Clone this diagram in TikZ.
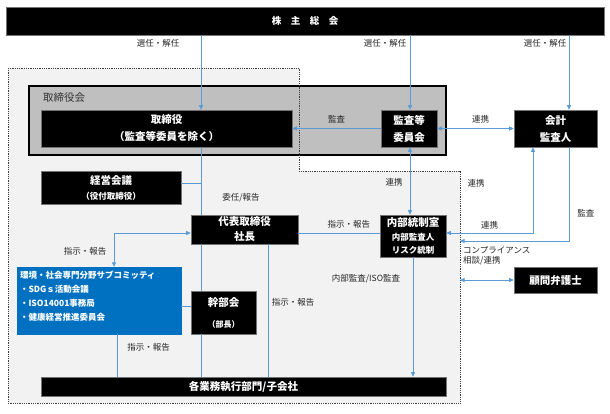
\documentclass[tikz,border=0pt]{standalone}
\usepackage{fontspec}
\setmainfont{Noto Sans CJK JP}
\usepackage{tikz}
\usetikzlibrary{arrows.meta,positioning,calc}
\definecolor{orglinecol}{HTML}{5B9BD5}
\definecolor{orgsubcol}{HTML}{0070C0}
\definecolor{orgzonecol}{HTML}{F2F2F2}
\definecolor{orgboardcol}{HTML}{BFBFBF}
\tikzset{
  orgbox/.style={
    rectangle, draw=black!55, fill=black, text=white, line width=0.6pt,
    inner sep=0pt, align=center, font=\bfseries\fontsize{10.5}{17}\selectfont
  },
  orgboard/.style={rectangle, draw=black, fill=orgboardcol, line width=1.6pt, inner sep=0pt},
  orgsub/.style={rectangle, draw=orgsubcol, fill=orgsubcol, inner sep=0pt},
  orgsubtext/.style={text=white, align=left, inner xsep=3pt, inner ysep=4pt,
    font=\bfseries\fontsize{8.5}{14}\selectfont},
  orgzone/.style={densely dotted, draw=black!75, line width=0.8pt},
  orgline/.style={draw=orglinecol, line width=0.6pt},
  orgedge/.style={orgline, -{Triangle[length=4.5pt,width=4pt]}},
  orgboth/.style={orgline, {Triangle[length=4.5pt,width=4pt]}-{Triangle[length=4.5pt,width=4pt]}},
  orglabel/.style={font=\fontsize{8.5}{10}\selectfont, text=black!85, inner sep=1pt},
  orgtitle/.style={font=\fontsize{10.5}{12}\selectfont, text=black!80, inner sep=0pt}
}

\begin{document}
\begin{tikzpicture}[x=1pt,y=-1pt]
  \useasboundingbox (0,0) rectangle (610,413);
  % columns and rows the connectors run along
  \coordinate (colA) at (201,0);
  \coordinate (colB) at (410,0);
  \coordinate (colC) at (569,0);
  \coordinate (colD) at (533,0);
  \coordinate (colE) at (114,0);
  \coordinate (colF) at (117,0);
  \coordinate (colG) at (268,0);
  \coordinate (zoneedge) at (460,0);
  \coordinate (rowK) at (0,183);
  \coordinate (rowA) at (0,233);
  \coordinate (rowD) at (0,241);
  \coordinate (rowF) at (0,306);
  % executive zone
  \fill[orgzonecol] (8,68) -- (299,68) -- (299,171) -- (460,171) -- (460,403) -- (8,403) -- cycle;
  \node[orgbox,font=\bfseries\fontsize{9.5}{12}\selectfont,minimum width=598pt,minimum height=28pt] (soukai) at (305,21) {株　主　総　会};
  \node[orgboard,minimum width=417pt,minimum height=69pt] (board) at (237.5,120.5) {};
  \node[orgtitle,anchor=west] (boardtitle) at (43,98) {取締役会};
  \draw[orgzone] (8,68) -- (299,68) -- (299,171) -- (460,171) -- (460,403) -- (8,403) -- cycle;
  \node[orgbox,minimum width=251pt,minimum height=37pt] (torishimariyaku) at (166.5,128.5) {取締役\\（監査等委員を除く）};
  \node[orgbox,minimum width=56pt,minimum height=37pt] (kansa) at (409,128.5) {監査等\\委員会};
  \node[orgbox,minimum width=83pt,minimum height=37pt] (kaikei) at (555.5,128.5) {会計\\監査人};
  \node[orgbox,font=\bfseries\fontsize{10.5}{15}\selectfont,minimum width=140pt,minimum height=33pt] (keiei) at (111,187.5) {経営会議\\{\fontsize{8.5}{15}\selectfont（役付取締役）}};
  \node[orgbox,font=\bfseries\fontsize{10.5}{15}\selectfont,minimum width=107pt,minimum height=29pt] (daihyo) at (244.5,229.5) {代表取締役\\社長};
  \node[orgbox,font=\bfseries\fontsize{8.5}{13.5}\selectfont,minimum width=66pt,minimum height=42pt] (naibu) at (413,236) {{\fontsize{10.5}{13.5}\selectfont 内部統制室}\\内部監査人\\リスク統制};
  \node[orgsub,minimum width=164pt,minimum height=67pt] (sub) at (99,300.5) {};
  \node[orgsubtext,anchor=north west] (subtext) at (sub.north west) {環境・社会専門分野サブコミッティ\\・SDGｓ活動会議\\・ISO14001事務局\\・健康経営推進委員会};
  \node[orgbox,font=\bfseries\fontsize{10.5}{21}\selectfont,minimum width=65pt,minimum height=43pt] (kanbu) at (223.5,312.5) {幹部会\\{\fontsize{8}{21}\selectfont（部長）}};
  \node[orgbox,minimum width=83pt,minimum height=26pt] (bengoshi) at (555.5,280) {顧問弁護士};
  \node[orgbox,minimum width=405pt,minimum height=19pt] (gyomu) at (243.5,386.5) {各業務執行部門/子会社};
  % from the shareholders' meeting
  \draw[orgedge] (soukai.south -| colA) -- (torishimariyaku.north -| colA);
  \draw[orgedge] (soukai.south -| colB) -- (kansa.north -| colB);
  \draw[orgedge] (soukai.south -| colC) -- (kaikei.north -| colC);
  \node[orglabel] (sennin1) at (158,43) {選任・解任};
  \node[orglabel] (sennin2) at (385,43) {選任・解任};
  \node[orglabel] (sennin3) at (545,43) {選任・解任};
  % audit committee and auditor
  \draw[orgedge] (kansa.west) -- node[orglabel,above=4pt] {監査} (torishimariyaku.east |- kansa.west);
  \draw[orgboth] (kansa.east) -- node[orglabel,above=4pt,xshift=5pt] {連携} (kaikei.west);
  \draw[orgboth] (kansa.south -| colB) -- node[orglabel,left=6pt,pos=.52] {連携} (naibu.north -| colB);
  \draw[orgboth] (kaikei.south -| colD) |- node[orglabel,pos=.75,above=3pt] {連携} (naibu.east |- rowA);
  \node[orglabel] (renkei4) at (476,183) {連携};
  \draw[orgedge] (kaikei.south -| colC) |- node[orglabel,pos=.35,right=7pt] {監査} (zoneedge |- rowD);
  \node[orglabel,anchor=west] (compliance) at (462,250) {コンプライアンス};
  \node[orglabel,anchor=west] (soudan) at (462,261) {相談/連携};
  \draw[orgboth] (zoneedge |- bengoshi.west) -- (bengoshi.west);
  % executive line
  \draw[orgline] (torishimariyaku.south -| colA) -- (daihyo.north -| colA);
  \draw[orgline] (keiei.east |- rowK) -- (colA |- rowK);
  \node[orglabel] (inin) at (241,198) {委任/報告};
  \draw[orgline] (daihyo.south -| colA) -- (kanbu.north -| colA);
  \draw[orgline] (kanbu.south -| colA) -- (gyomu.north -| colA);
  \draw[orgline] (daihyo.east |- rowA) -- node[orglabel,above=3pt,pos=.62] {指示・報告} (naibu.west |- rowA);
  \draw[orgboth] (sub.north -| colE) |- (daihyo.west |- rowA);
  \node[orglabel] (shiji1) at (85,251) {指示・報告};
  \draw[orgline] (sub.east |- rowF) -- (kanbu.west |- rowF);
  \draw[orgline] (sub.south -| colF) -- node[orglabel,right=9pt,pos=.3] {指示・報告} (gyomu.north -| colF);
  \draw[orgline] (daihyo.south -| colG) -- (gyomu.north -| colG);
  \node[orglabel] (shiji3) at (293,302) {指示・報告};
  \draw[orgedge] (naibu.south) -- (gyomu.north -| naibu.south);
  \node[orglabel] (naibukansa) at (366,279) {内部監査/ISO監査};
\end{tikzpicture}
\end{document}
